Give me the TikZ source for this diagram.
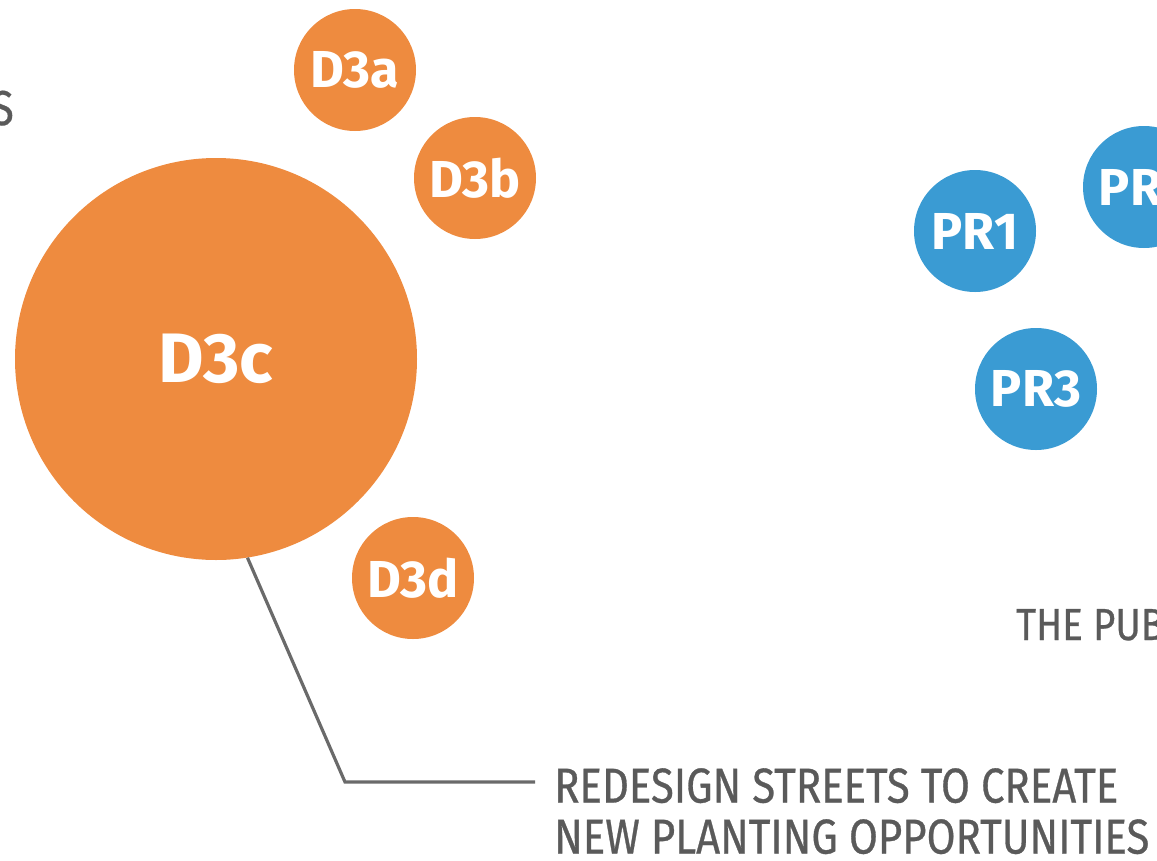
\documentclass[tikz,border=0pt]{standalone}
\usepackage{fontspec}
\setmainfont{Fira Sans}
\newfontfamily\labfont{Fira Sans}[FakeStretch=0.855,FakeBold=0.6]
\definecolor{orng}{HTML}{EE8B3F}
\definecolor{blu}{HTML}{3A9BD3}
\definecolor{txtgray}{HTML}{5A5A5A}
\definecolor{lngray}{HTML}{6A6A6A}
\begin{document}
\begin{tikzpicture}[x=1pt,y=-1pt,
  bub/.style={circle,inner sep=0pt,minimum size=#1,text=white,font=\bfseries\fontsize{52}{52}\selectfont},
  obub/.style={bub=122pt,fill=orng},
  pbub/.style={bub=122pt,fill=blu},
  caption/.style={text=txtgray,font=\labfont\fontsize{49}{50}\selectfont,inner sep=0pt,align=left},
  leader/.style={draw=lngray,line width=3.2pt}]
\useasboundingbox (0,0) rectangle (1157,860);
\clip (0,0) rectangle (1157,860);
\node[obub] (d3a) at (355,70) {D3a};
\node[obub] (d3b) at (475,178) {D3b};
\node[bub=402pt,fill=orng,font=\bfseries\fontsize{70}{70}\selectfont] (d3c) at (216,359) {D3c};
\node[obub] (d3d) at (413,578) {D3d};
\node[pbub] (pr1) at (975,231) {PR1};
\node[pbub] (pr2) at (1144,187) {PR2};
\node[pbub] (pr3) at (1036,389) {PR3};
\node[caption,anchor=base east] (s) at (14,125) {S};
\node[caption,anchor=base west,font=\labfont\fontsize{45}{45}\selectfont] (pub) at (1016,640) {THE PUBLIC};
\node[caption,anchor=north west] (cap) at (554,768) {REDESIGN STREETS TO CREATE\\[1pt]NEW PLANTING OPPORTUNITIES};
\coordinate (bend) at (345,782);
\coordinate (lend) at (535,782);
\draw[leader] (d3c.-81) -- (bend) -- (lend);
\end{tikzpicture}
\end{document}
